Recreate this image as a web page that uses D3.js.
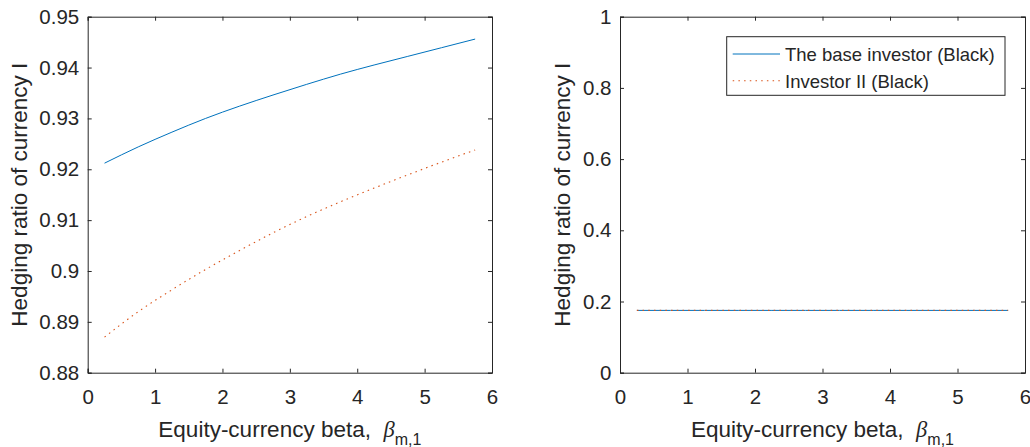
<!DOCTYPE html>
<html lang="en">
<head>
    <meta charset="UTF-8">
    <script src="https://d3js.org/d3.v7.min.js"></script>
    <title>Hedging ratio</title>
    <style>
        body { margin: 0; background: #fff; }
        text { font-family: "Liberation Sans", Arial, sans-serif; fill: #262626; }
    </style>
</head>
<body>
    <svg id="chart" width="1030" height="447"></svg>
    <script>
        // equity-currency beta grid
        const betas = [0.25, 0.75, 1.25, 1.75, 2.25, 2.75, 3.25, 3.75, 4.25, 4.75, 5.25, 5.75];

        // left panel
        const leftBase = [0.9212, 0.9244, 0.9273, 0.9300, 0.9324, 0.9346, 0.9367, 0.9387, 0.9405, 0.9422, 0.9439, 0.9456];
        const leftInv2 = [0.8870, 0.8920, 0.8963, 0.9003, 0.9040, 0.9075, 0.9107, 0.9136, 0.9163, 0.9189, 0.9214, 0.9238];

        // right panel
        const rightBase = [0.175, 0.175, 0.175, 0.175, 0.175, 0.175, 0.175, 0.175, 0.175, 0.175, 0.175, 0.175];
        const rightInv2 = [0.175, 0.175, 0.175, 0.175, 0.175, 0.175, 0.175, 0.175, 0.175, 0.175, 0.175, 0.175];

        const xTicks = [0, 1, 2, 3, 4, 5, 6];
        const leftYTicks = [0.88, 0.89, 0.90, 0.91, 0.92, 0.93, 0.94, 0.95];
        const rightYTicks = [0, 0.2, 0.4, 0.6, 0.8, 1];
        const legendLabels = ["The base investor (Black)", "Investor II (Black)"];

        const blue = "#0072BD";
        const red = "#D95319";
        const axisColor = "#262626";

        const svg = d3.select("#chart");

        function drawPanel(x0, x1, yDomain, yTicks, base, inv2, yLabelX) {
            const top = 16.7, bottom = 372.7;
            const x = d3.scaleLinear().domain([0, 6]).range([x0, x1]);
            const y = d3.scaleLinear().domain(yDomain).range([bottom, top]);
            const g = svg.append("g");

            const line = d3.line()
                .x((d, i) => x(betas[i]))
                .y(d => y(d))
                .curve(d3.curveMonotoneX);

            g.append("path")
                .datum(base)
                .attr("d", line)
                .attr("fill", "none")
                .attr("stroke", blue)
                .attr("stroke-width", 1);

            g.append("path")
                .datum(inv2)
                .attr("d", line)
                .attr("fill", "none")
                .attr("stroke", red)
                .attr("stroke-width", 1.1)
                .attr("stroke-dasharray", "1.5,4.2");

            const fmt = d => String(+d.toFixed(2));

            // bottom + top
            const xb = g.append("g")
                .attr("transform", "translate(0," + bottom + ")")
                .call(d3.axisBottom(x).tickValues(xTicks).tickSize(-4).tickPadding(16.5).tickFormat(fmt));
            const xt = g.append("g")
                .attr("transform", "translate(0," + top + ")")
                .call(d3.axisTop(x).tickValues(xTicks).tickSize(-4).tickFormat(""));
            // left + right
            const yl = g.append("g")
                .attr("transform", "translate(" + x0 + ",0)")
                .call(d3.axisLeft(y).tickValues(yTicks).tickSize(-4).tickPadding(8.5).tickFormat(fmt));
            const yr = g.append("g")
                .attr("transform", "translate(" + x1 + ",0)")
                .call(d3.axisRight(y).tickValues(yTicks).tickSize(-4).tickFormat(""));

            [xb, xt, yl, yr].forEach(a => {
                a.selectAll("path").attr("stroke", axisColor);
                a.selectAll("line").attr("stroke", axisColor);
                a.selectAll("text").attr("fill", axisColor).style("font-size", "20.5px")
                    .style("font-family", "'Liberation Sans', Arial, sans-serif");
            });

            // x label
            const xl = g.append("text")
                .attr("x", (x0 + x1) / 2)
                .attr("y", 436.5)
                .attr("text-anchor", "middle")
                .style("font-size", "22.5px")
                .attr("xml:space", "preserve");
            xl.append("tspan").text("Equity-currency beta,  ");
            xl.append("tspan")
                .style("font-family", "'Liberation Serif', serif")
                .style("font-style", "italic")
                .text("β");
            xl.append("tspan")
                .attr("dy", 8)
                .style("font-size", "16px")
                .text("m,1");

            // y label
            g.append("text")
                .attr("transform", "translate(" + yLabelX + "," + ((top + bottom) / 2) + ") rotate(-90)")
                .attr("text-anchor", "middle")
                .style("font-size", "22.5px")
                .text("Hedging ratio of currency I");

            return { x, y, g };
        }

        drawPanel(87.7, 492, [0.88, 0.95], leftYTicks, leftBase, leftInv2, 27);
        drawPanel(620, 1025, [0, 1], rightYTicks, rightBase, rightInv2, 569.5);

        // legend in the right panel
        const legend = svg.append("g");
        legend.append("rect")
            .attr("x", 726.7)
            .attr("y", 36.7)
            .attr("width", 278.3)
            .attr("height", 58.6)
            .attr("fill", "#fff")
            .attr("stroke", axisColor)
            .attr("stroke-width", 1);

        legendLabels.forEach((lab, i) => {
            const ly = 54 + i * 26.7;
            legend.append("line")
                .attr("x1", 732.7)
                .attr("x2", 780)
                .attr("y1", ly)
                .attr("y2", ly)
                .attr("stroke", i === 0 ? blue : red)
                .attr("stroke-width", i === 0 ? 1 : 1.1)
                .attr("stroke-dasharray", i === 0 ? null : "1.5,4.2");
            legend.append("text")
                .attr("x", 785)
                .attr("y", ly + 7)
                .style("font-size", "18.5px")
                .text(lab);
        });
    </script>
</body>
</html>
